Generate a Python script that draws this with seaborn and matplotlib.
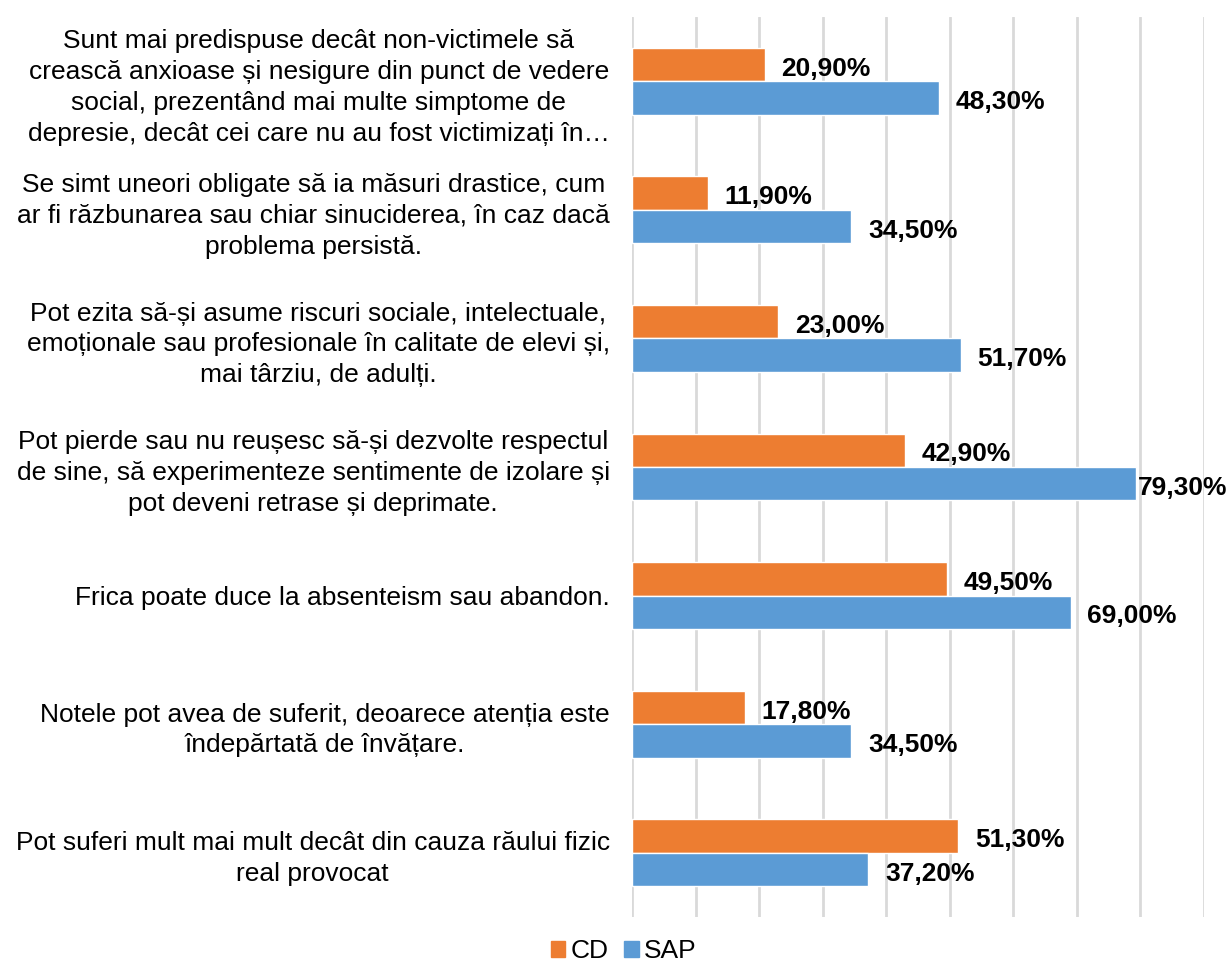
import pandas as pd
import matplotlib.pyplot as plt
import seaborn as sns
from matplotlib.patches import Patch

# Etichete categorii (de sus in jos)
categories = [
    "Sunt mai predispuse decât non-victimele să\ncrească anxioase și nesigure din punct de vedere\nsocial, prezentând mai multe simptome de\ndepresie, decât cei care nu au fost victimizați în…",
    "Se simt uneori obligate să ia măsuri drastice, cum\nar fi răzbunarea sau chiar sinuciderea, în caz dacă\nproblema persistă.",
    "Pot ezita să-și asume riscuri sociale, intelectuale,\nemoționale sau profesionale în calitate de elevi și,\nmai târziu, de adulți.",
    "Pot pierde sau nu reușesc să-și dezvolte respectul\nde sine, să experimenteze sentimente de izolare și\npot deveni retrase și deprimate.",
    "Frica poate duce la absenteism sau abandon.",
    "Notele pot avea de suferit, deoarece atenția este\nîndepărtată de învățare.",
    "Pot suferi mult mai mult decât din cauza răului fizic\nreal provocat",
]
cd_values = [20.9, 11.9, 23.0, 42.9, 49.5, 17.8, 51.3]
sap_values = [48.3, 34.5, 51.7, 79.3, 69.0, 34.5, 37.2]
series = ["CD", "SAP"]
colors = {"CD": "#ED7D31", "SAP": "#5B9BD5"}

df = pd.DataFrame({
    "categorie": categories * 2,
    "serie": ["CD"] * len(categories) + ["SAP"] * len(categories),
    "valoare": cd_values + sap_values,
})

sns.set_style("white")
plt.rcParams['font.family'] = ['Liberation Sans', 'DejaVu Sans']
plt.rcParams['text.color'] = 'black'
plt.rcParams['ytick.color'] = 'black'

fig = plt.figure(figsize=(12.3, 9.63), dpi=100)
ax = fig.add_axes([0.5138, 0.0478, 0.4651, 0.9345])

sns.barplot(data=df, x="valoare", y="categorie", hue="serie", order=categories,
            hue_order=series, palette=colors, orient="h", width=0.52,
            saturation=1, legend=False, ax=ax)

ax.set_xlim(0, 90)
ax.set_xticks(range(0, 91, 10))
ax.xaxis.grid(True, color="#d9d9d9", linewidth=2)
ax.set_axisbelow(True)
for s in ax.spines.values():
    s.set_visible(False)
ax.tick_params(axis="x", length=0, labelbottom=False)
ax.tick_params(axis="y", length=0, pad=16)
ax.set_xlabel("")
ax.set_ylabel("")
for lab in ax.get_yticklabels():
    lab.set_fontsize(19)
    lab.set_multialignment("center")
    lab.set_linespacing(1.36)

# etichete valori
for cont in ax.containers:
    for bar in cont:
        w = bar.get_width()
        off = 1 if w > 75 else 12
        ax.annotate(f"{w:.2f}%".replace(".", ","),
                    (w, bar.get_y() + bar.get_height() / 2),
                    xytext=(off, -3), textcoords="offset points",
                    ha="left", va="center", fontsize=19, fontweight="bold",
                    annotation_clip=False)

handles = [Patch(color=colors[s], label=s) for s in series]
fig.legend(handles=handles, loc="lower center", bbox_to_anchor=(0.507, -0.025),
           ncol=2, frameon=False, fontsize=19, handlelength=0.55, handleheight=0.55,
           handletextpad=0.2, columnspacing=0.6)

fig.savefig("out.png", dpi=100)
